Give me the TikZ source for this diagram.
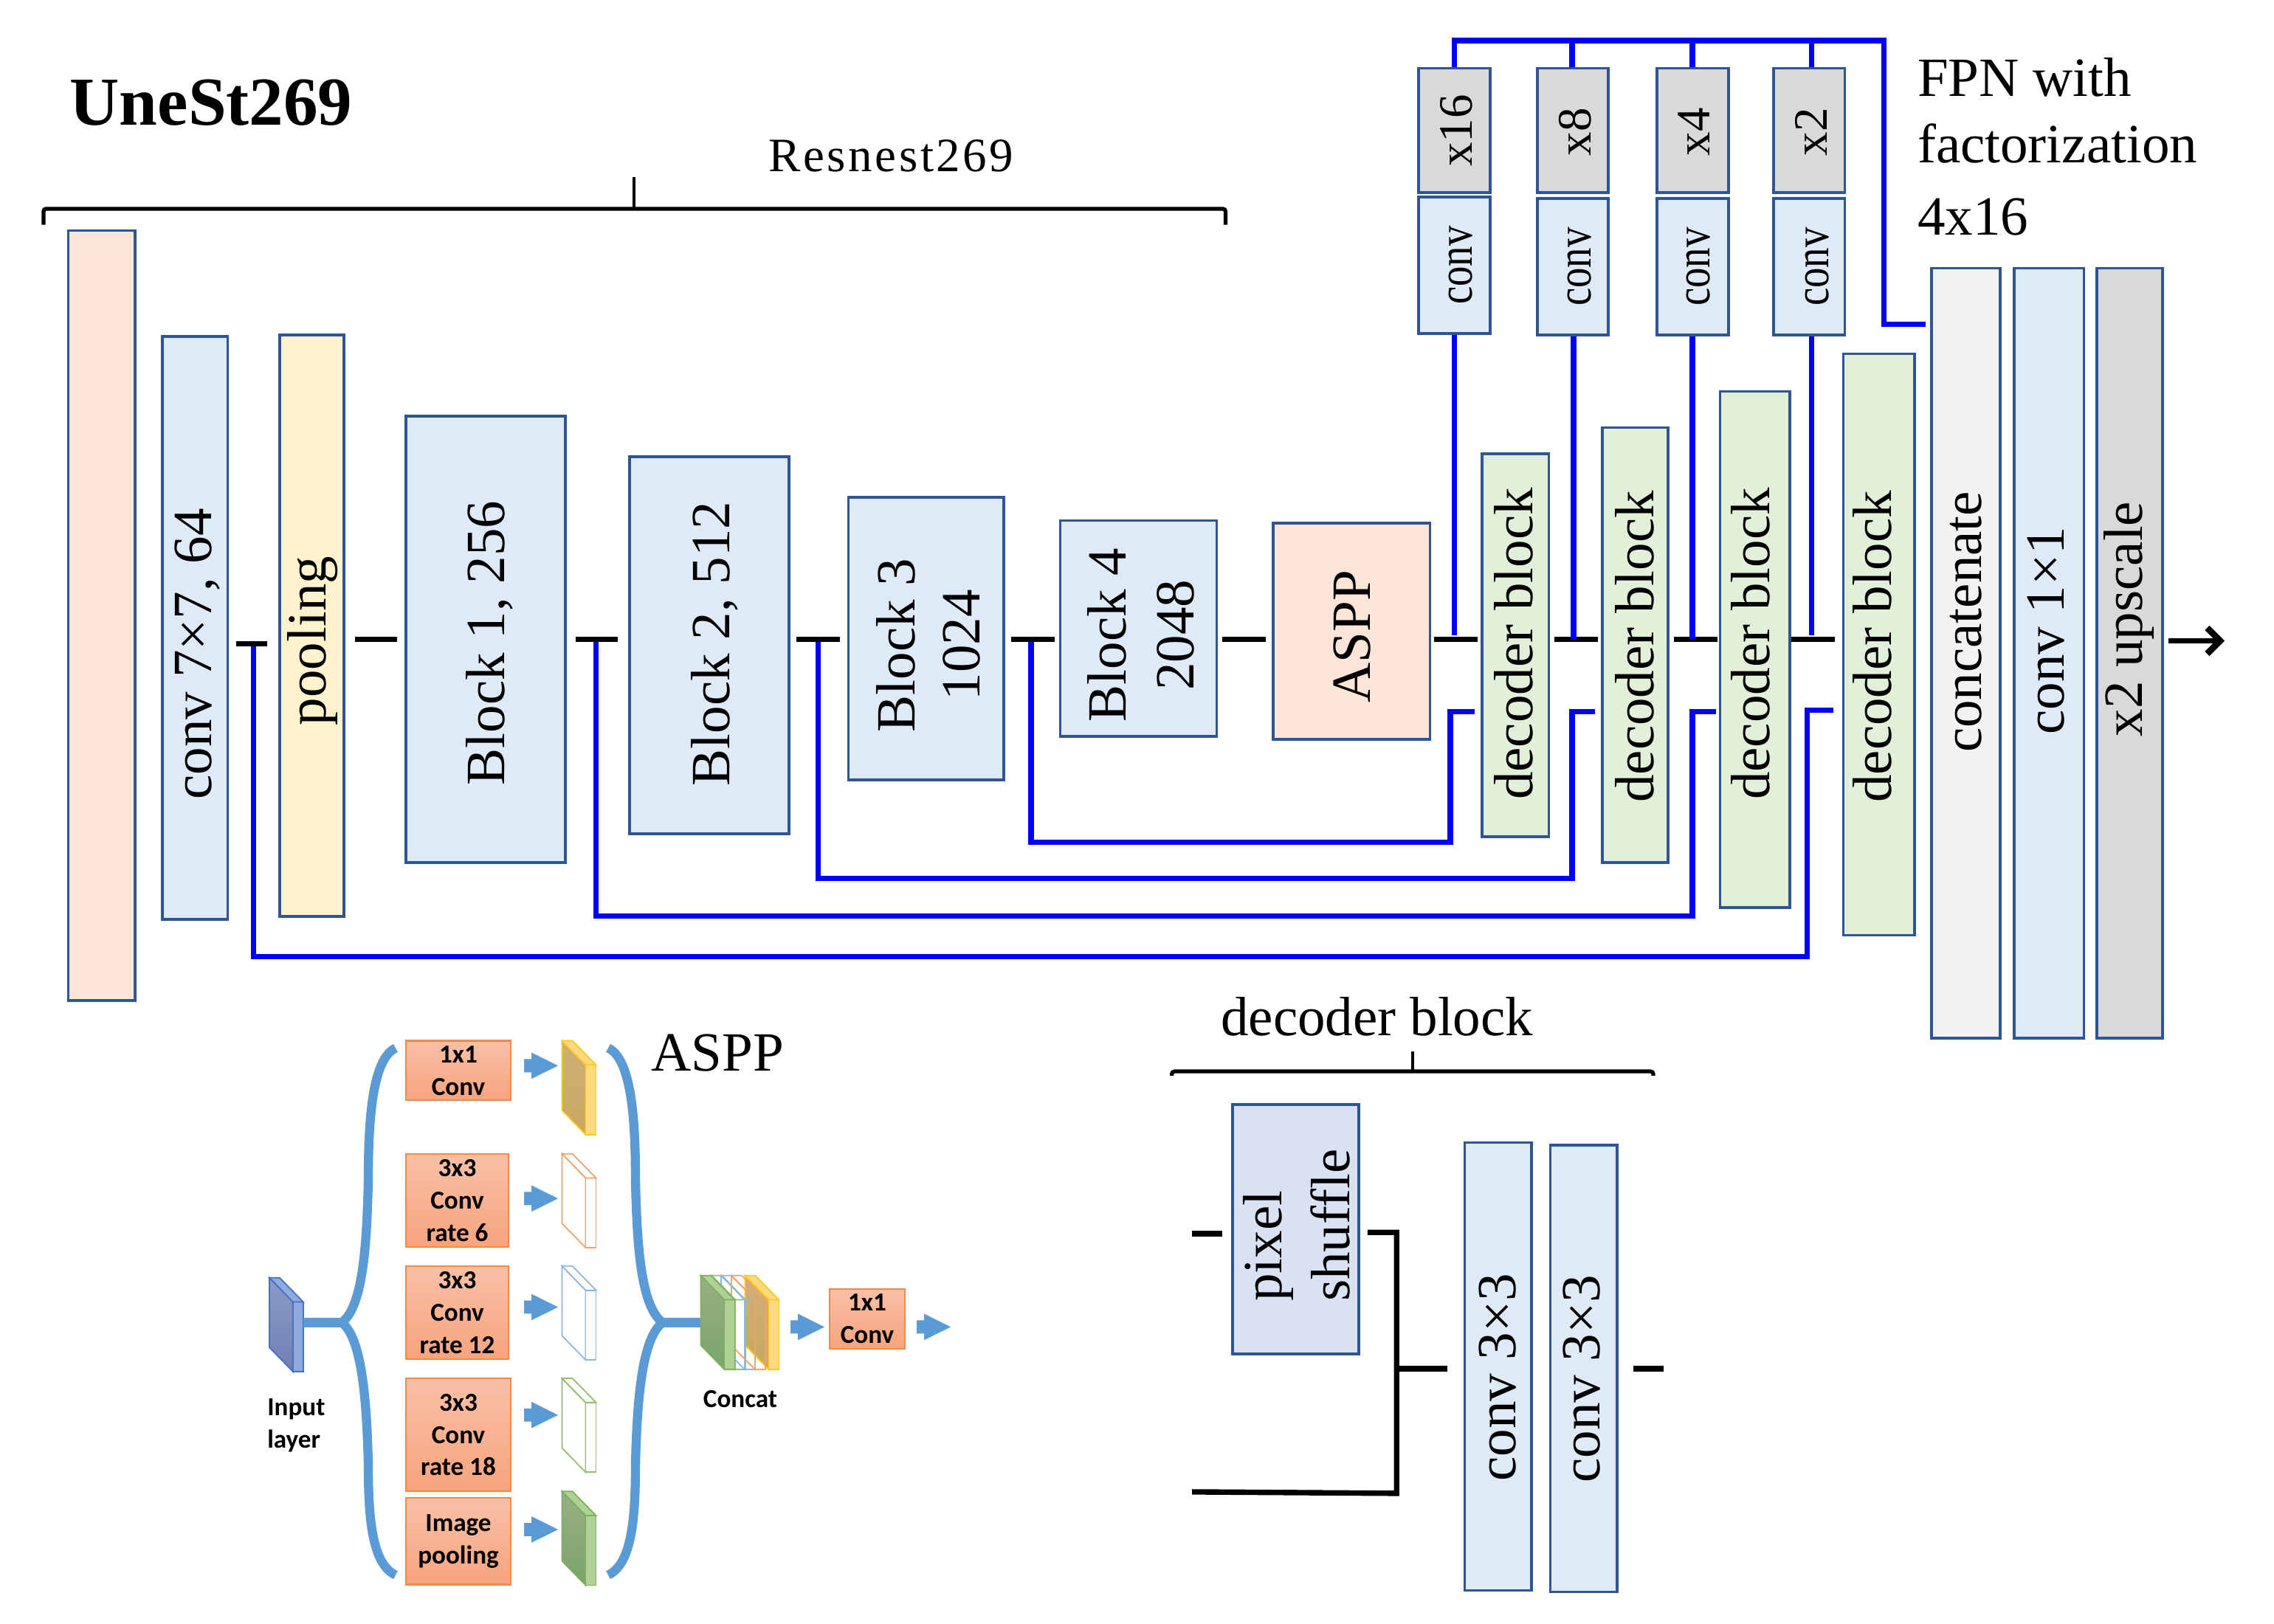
\documentclass[tikz,border=0pt]{standalone}
\usepackage{fontspec}
\usetikzlibrary{arrows.meta}
\setmainfont{Liberation Serif}
\newfontfamily\cf{Carlito}
\newfontfamily\narrowf[FakeStretch=0.82]{Liberation Serif}
\definecolor{edgeb}{HTML}{2F5597}
\definecolor{peach}{HTML}{FBE5D6}
\definecolor{lblue}{HTML}{DEEBF7}
\definecolor{lyell}{HTML}{FFF2CC}
\definecolor{lgreen}{HTML}{E2F0D9}
\definecolor{lgrey}{HTML}{F2F2F2}
\definecolor{mgrey}{HTML}{D9D9D9}
\definecolor{pix}{HTML}{D9E2F3}
\definecolor{sky}{HTML}{5B9BD5}
\definecolor{pure}{HTML}{0000FF}
\definecolor{orangeA}{HTML}{F8C0A6}
\definecolor{orangeB}{HTML}{F7A47E}
\definecolor{orangeE}{HTML}{F08A4B}
\definecolor{yE}{HTML}{FFCA1C}\definecolor{yS}{HTML}{FFD97F}\definecolor{yT}{HTML}{CDB077}\definecolor{yB}{HTML}{C8A860}
\definecolor{gE}{HTML}{7DB05A}\definecolor{gS}{HTML}{AFD196}\definecolor{gT}{HTML}{97B082}\definecolor{gB}{HTML}{7CA46C}
\definecolor{iE}{HTML}{4472C4}\definecolor{iS}{HTML}{8FAADC}\definecolor{iT}{HTML}{8C9BC8}\definecolor{iB}{HTML}{6F7FB0}
\definecolor{wO}{HTML}{F4A26B}\definecolor{wB}{HTML}{8DB8E2}\definecolor{wG}{HTML}{90C070}
\newcommand\fA{\fontsize{42.7}{49}\selectfont}
\newcommand\fC{\fontsize{37}{44}\selectfont}
\newcommand\fD{\narrowf\fontsize{38}{44}\selectfont}
\def\un{0.0393}
\tikzset{
 bb/.style={draw=edgeb,line width=2.1pt,fill=#1},
 orangebox/.style={line width=1.2pt,top color=orangeA,bottom color=orangeB,draw=orangeE,align=center,inner sep=0pt,font=\cf\bfseries\fontsize{20}{25}\selectfont},
 bl/.style={draw=pure,line width=4.1pt},
 stubl/.style={draw=black,line width=4.2pt},
 thinb/.style={draw=black,line width=3pt,rounded corners=2pt},
 thint/.style={draw=black,line width=2.3pt},
 brace/.style={draw=sky,line width=7pt},
 sl/.style={line width=1pt},
 lab/.style={font=\fA,inner sep=0pt},
 sm/.style={font=\cf\bfseries\fontsize{20}{25}\selectfont,inner sep=0pt},
}
% name, x0,y0,x1,y1, style, baseline x, text centre y, text (rotated)
\newcommand\bx[9]{%
 \pgfmathsetmacro\bCx{(#2+#4)/2}\pgfmathsetmacro\bCy{(#3+#5)/2}%
 \pgfmathsetmacro\bW{abs(#4-#2)*\un}\pgfmathsetmacro\bH{abs(#5-#3)*\un}%
 \pgfmathsetmacro\bD{2*(\bCy-#8)*\un}\pgfmathsetmacro\bR{(\bCx-#7)*\un}%
 \node[bb=#6,rotate=90,minimum width=\bH cm,minimum height=\bW cm,inner sep=0pt,text height=0pt,text depth=0pt] (#1) at (\bCx,\bCy) {\hspace*{\bD cm}\raisebox{\bR cm}{#9}};}
% stub: name,x1,x2,y
\newcommand\stub[4]{%
 \coordinate (#1-a) at (#2,#4);\coordinate (#1-b) at (#3,#4);
 \draw[stubl] (#1-a) -- (#1-b);}
% inset box
\newcommand\obox[6]{%
 \pgfmathsetmacro\bCx{(#2+#4)/2}\pgfmathsetmacro\bCy{(#3+#5)/2}%
 \pgfmathsetmacro\bW{abs(#4-#2)*0.02}\pgfmathsetmacro\bH{abs(#5-#3)*0.0199}%
 \node[orangebox,minimum width=\bW cm,minimum height=\bH cm] (#1) at (\bCx,\bCy) {#6};}
% slab: x,y top-left; edge, side fill, face top, face bottom
\newcommand\slab[6]{%
 \shade[top color=#5,bottom color=#6] (#1,#2) -- (#1+32,#2+33) -- (#1+32,#2+128) -- (#1,#2+95) -- cycle;
 \draw[draw=#3,sl] (#1,#2) -- (#1+32,#2+33) -- (#1+32,#2+128) -- (#1,#2+95) -- cycle;
 \draw[draw=#3,sl,fill=#4] (#1+32,#2+33) -- (#1+46,#2+33) -- (#1+46,#2+128) -- (#1+32,#2+128) -- cycle;
 \draw[draw=#3,sl,fill=#4] (#1,#2) -- (#1+14,#2) -- (#1+46,#2+33) -- (#1+32,#2+33) -- cycle;}
\newcommand\wslab[3]{%
 \draw[draw=#3,sl,fill=#1] (#2) -- ++(32,33) -- ++(0,95) -- ++(-32,-33) -- cycle;
 \draw[draw=#3,sl,fill=#1] (#2) ++(32,33) -- ++(14,0) -- ++(0,95) -- ++(-14,0) -- cycle;
 \draw[draw=#3,sl,fill=#1] (#2) -- ++(14,0) -- ++(32,33) -- ++(-14,0) -- cycle;}
% block arrow: left x, centre y
\newcommand\barrow[2]{%
 \fill[sky] (#1,#2-9) -- (#1+10,#2-9) -- (#1+10,#2-18) -- (#1+46,#2) -- (#1+10,#2+18) -- (#1+10,#2+9) -- (#1,#2+9) -- cycle;}
\begin{document}
\begin{tikzpicture}[x=\un cm,y=-\un cm]
\useasboundingbox (0,0) rectangle (1568,1120);
\fill[white] (0,0) rectangle (1568,1120);

% encoder
\bx{inp}{47}{159}{93}{690}{peach}{70}{424}{}
\bx{conv7}{112}{232}{157}{634}{lblue}{146}{451}{\fA conv 7×7, 64}
\bx{pool}{193}{231}{237}{632}{lyell}{224.5}{442}{\fA pooling}
\bx{b1}{280}{287}{390}{595}{lblue}{348}{443.5}{\fA Block 1, 256}
\bx{b2}{434}{315}{544}{575}{lblue}{503}{444}{\fA Block 2, 512}
\bx{b3}{585}{343}{692}{538}{lblue}{650}{445}{\fontsize{42.7}{50}\selectfont\begin{tabular}{@{}c@{}}Block 3\\ 1024\end{tabular}}
\bx{b4}{731}{359}{839}{508}{lblue}{796}{438}{\fontsize{42.7}{52}\selectfont\begin{tabular}{@{}c@{}}Block 4\\ 2048\end{tabular}}
\bx{aspp}{878}{361}{986}{510}{peach}{945}{439}{\fA ASPP}

% decoder
\bx{d1}{1022}{313}{1068}{577}{lgreen}{1057}{444}{\fA decoder block}
\bx{d2}{1105}{295}{1150}{595}{lgreen}{1140}{446}{\fA decoder block}
\bx{d3}{1186}{270}{1234}{626}{lgreen}{1220}{444}{\fA decoder block}
\bx{d4}{1271}{244}{1320}{645}{lgreen}{1304}{446}{\fA decoder block}
\bx{cat}{1332}{185}{1379}{716}{lgrey}{1366}{429}{\fA concatenate}
\bx{c11}{1389}{185}{1437}{716}{lblue}{1423}{435}{\fA conv 1×1}
\bx{up}{1446}{185}{1491}{716}{mgrey}{1477}{427}{\fA x2 upscale}

% FPN
\bx{x16}{978}{47}{1027.5}{133}{mgrey}{1015}{90}{\fC x16}
\bx{x8}{1060}{47}{1109}{133}{mgrey}{1097}{91}{\fC x8}
\bx{x4}{1142.5}{47}{1192}{133}{mgrey}{1179}{91}{\fC x4}
\bx{x2}{1223}{47}{1272}{133}{mgrey}{1260}{91}{\fC x2}
\bx{cv1}{978}{136}{1027.5}{230}{lblue}{1015}{183}{\fD conv}
\bx{cv2}{1060}{137}{1109}{231}{lblue}{1097}{184}{\fD conv}
\bx{cv3}{1142.5}{137}{1192}{231}{lblue}{1179}{184}{\fD conv}
\bx{cv4}{1223}{137}{1272}{231}{lblue}{1261}{184}{\fD conv}

% blue skip connections
\coordinate (s1m) at (175,444);\coordinate (s2m) at (411,441);\coordinate (s3m) at (564,441);\coordinate (s4m) at (711,441);
\coordinate (k1a) at (1246,660);\coordinate (k1b) at (1246,490);\coordinate (k1c) at (1264,490);
\coordinate (k2a) at (1167,632);\coordinate (k2b) at (1167,491);\coordinate (k2c) at (1183,491);
\coordinate (k3a) at (1084,606);\coordinate (k3b) at (1084,491);\coordinate (k3c) at (1100,491);
\coordinate (k4a) at (1000,581);\coordinate (k4b) at (1000,491);\coordinate (k4c) at (1017,491);
\draw[bl] (s1m) |- (k1a) -- (k1b) -- (k1c);
\draw[bl] (s2m) |- (k2a) -- (k2b) -- (k2c);
\draw[bl] (s3m) |- (k3a) -- (k3b) -- (k3c);
\draw[bl] (s4m) |- (k4a) -- (k4b) -- (k4c);

% black stubs
\stub{s1}{163}{184}{444}
\stub{s2}{245}{274}{441}
\stub{s3}{397}{426}{441}
\stub{s4}{549}{579}{441}
\stub{s5}{697}{727}{441}
\stub{s6}{843}{873}{441}
\stub{s7}{989}{1019}{441}
\stub{s8}{1072}{1102}{441}
\stub{s9}{1154}{1184}{441}
\stub{s10}{1235}{1265}{441}
\coordinate (outa) at (1495,442);\coordinate (outb) at (1534,442);
\draw[stubl,-{Straight Barb[length=10pt,width=20pt,line width=5pt]}] (outa) -- (outb);

% verticals into stubs
\coordinate (v1) at (1003,438);\coordinate (v2) at (1085,441);\coordinate (v3) at (1167,441);\coordinate (v4) at (1249,438);
\draw[bl] (cv1.west -| v1) -- (v1);
\draw[bl] (cv2.west -| v2) -- (v2);
\draw[bl] (cv3.west -| v3) -- (v3);
\draw[bl] (cv4.west -| v4) -- (v4);
% top bus
\coordinate (bus1) at (1003,28);\coordinate (bus2) at (1084,28);\coordinate (bus3) at (1167,28);\coordinate (bus4) at (1249,28);
\coordinate (busr) at (1299,28);\coordinate (busd) at (1299,223.5);\coordinate (buse) at (1328,223.5);
\draw[bl] (x16.east -| bus1) -- (bus1) -- (busr) -- (busd) -- (buse);
\draw[bl] (x8.east -| bus2) -- (bus2);
\draw[bl] (x4.east -| bus3) -- (bus3);
\draw[bl] (x2.east -| bus4) -- (bus4);

% titles
\node[anchor=west,inner sep=0pt,font=\bfseries\fontsize{53}{60}\selectfont] (title) at (48,71) {UneSt269};
\node[lab] (res) at (614.5,107.5) {\fontsize{37}{44}\selectfont\addfontfeature{LetterSpace=5.5}Resnest269};
\draw[thinb] (30,155) -- (30,144) -- (845,144) -- (845,155);
\draw[thint] (437,144) -- (437,122);
\node[lab,anchor=west,align=left,font=\fontsize{42.7}{53.5}\selectfont] (fpn) at (1322,101) {FPN with\\[-2.2pt]factorization\\[2.2pt]4x16};

% decoder block detail
\node[lab] (dblab) at (949.5,701) {decoder block};
\draw[thinb] (808,742) -- (808,739) -- (1140,739) -- (1140,742);
\draw[thint] (974,739) -- (974,725);
\bx{ps}{850}{762}{937}{934}{pix}{903.5}{845}{\fontsize{42.7}{52}\selectfont\begin{tabular}{@{}l@{}}pixel\\ shuffle\end{tabular}}
\bx{c3a}{1010}{788}{1056}{1097}{lblue}{1045}{950}{\fA conv 3×3}
\bx{c3b}{1069}{790}{1115}{1098}{lblue}{1103}{951}{\fA conv 3×3}
\coordinate (p1) at (822,851);\coordinate (p2) at (843,851);
\draw[stubl] (p1) -- (p2);
\coordinate (q1) at (943,850);\coordinate (q2) at (963,850);\coordinate (q3) at (963,1030);\coordinate (q4) at (822,1029);
\draw[stubl] (q1) -- (q2) -- (q3) -- (q4);
\coordinate (r1) at (964,944);\coordinate (r2) at (998,944);
\draw[stubl] (r1) -- (r2);
\coordinate (t1) at (1126,944);\coordinate (t2) at (1147,944);
\draw[stubl] (t1) -- (t2);
\node[lab,anchor=west] (asplab) at (449,726) {ASPP};

% ASPP inset (full-size pixel units)
\begin{scope}[x=0.02cm,y=-0.0199cm,yshift=-0.14cm]
\def\un{0.02}
\obox{o1}{550}{1411}{692}{1492}{1x1\\Conv}
\obox{o2}{550}{1565}{689}{1692}{3x3\\Conv\\rate 6}
\obox{o3}{550}{1718}{689}{1845}{3x3\\Conv\\rate 12}
\obox{o4}{550}{1871}{692}{2025}{3x3\\Conv\\rate 18}
\obox{o5}{550}{2034}{692}{2152}{Image\\pooling}
\obox{o6}{1124}{1749}{1226}{1831}{1x1\\Conv}
\barrow{710}{1445}\barrow{710}{1626}\barrow{710}{1774}\barrow{710}{1921}\barrow{710}{2077}
\barrow{1071}{1801}\barrow{1242}{1801}
% slabs
\slab{761.5}{1411}{yE}{yS}{yT}{yB}
\coordinate (w1) at (761.5,1565);\wslab{white}{w1}{wO}
\coordinate (w2) at (761.5,1718);\wslab{white}{w2}{wB}
\coordinate (w3) at (761.5,1871);\wslab{white}{w3}{wG}
\slab{761.5}{2025}{gE}{gS}{gT}{gB}
\slab{365}{1734}{iE}{iS}{iT}{iB}
% braces
\coordinate (bl1) at (536,1421);\coordinate (bl2) at (499,1600);\coordinate (bl3) at (463,1795);
\coordinate (bl4) at (499,1990);\coordinate (bl5) at (536,2139);\coordinate (bl6) at (411,1795);
\draw[brace] (bl1) .. controls (506,1435) and (499,1510) .. (bl2) .. controls (497,1700) and (490,1775) .. (bl3) .. controls (490,1815) and (497,1900) .. (bl4) .. controls (499,2070) and (506,2125) .. (bl5);
\draw[brace] (bl3) -- (bl6);
\coordinate (br1) at (824,1421);\coordinate (br2) at (861,1600);\coordinate (br3) at (898,1795);
\coordinate (br4) at (861,1990);\coordinate (br5) at (824,2139);\coordinate (br6) at (949,1795);
\draw[brace] (br1) .. controls (854,1435) and (861,1510) .. (br2) .. controls (863,1700) and (870,1775) .. (br3) .. controls (870,1815) and (863,1900) .. (br4) .. controls (861,2070) and (854,2125) .. (br5);
\draw[brace] (br3) -- (br6);
% concat stack
\slab{1009.5}{1731}{yE}{yS}{yT}{yB}
\coordinate (cw1) at (964,1731);\wslab{none}{cw1}{wG}
\coordinate (cw2) at (977,1731);\wslab{none}{cw2}{wB}
\coordinate (cw3) at (991,1731);\wslab{none}{cw3}{wO}
\slab{949.5}{1731}{gE}{gS}{gT}{gB}
% labels
\node[sm,anchor=west,align=left] (inl) at (362,1935) {Input\\layer};
\node[sm] (conc) at (1003,1899) {Concat};
\end{scope}
\end{tikzpicture}
\end{document}
